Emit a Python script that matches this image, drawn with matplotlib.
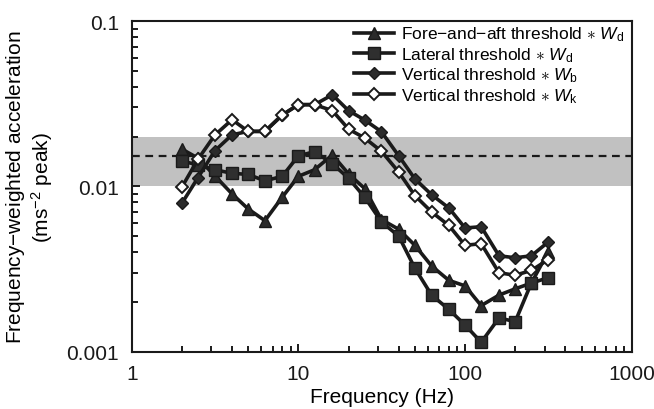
import matplotlib
matplotlib.use("Agg")
import matplotlib.pyplot as plt
from matplotlib.ticker import LogLocator, NullFormatter, FixedLocator, FixedFormatter

plt.rcParams['font.family'] = ['Liberation Sans', 'DejaVu Sans']
plt.rcParams['mathtext.fontset'] = 'custom'
plt.rcParams['mathtext.it'] = 'Liberation Sans:italic'
plt.rcParams['mathtext.rm'] = 'Liberation Sans'

freq = [2, 2.5, 3.15, 4, 5, 6.3, 8, 10, 12.5, 16, 20, 25, 31.5, 40,
        50, 63, 80, 100, 125, 160, 200, 250, 315]

fore_aft_wd = [0.0168, 0.0148, 0.0116, 0.0090, 0.0073, 0.0062, 0.0086, 0.0115,
               0.0126, 0.0155, 0.0119, 0.0097, 0.0063, 0.0055, 0.0044, 0.0033,
               0.0027, 0.0025, 0.0019, 0.0022, 0.0024, 0.0026, 0.0040]
lateral_wd = [0.0142, 0.0135, 0.0126, 0.0120, 0.0118, 0.0108, 0.0115, 0.0153,
              0.0162, 0.0137, 0.0112, 0.0086, 0.0061, 0.0050, 0.0032, 0.0022,
              0.0018, 0.00145, 0.00114, 0.0016, 0.00152, 0.0026, 0.0028]
vertical_wb = [0.0079, 0.0113, 0.0164, 0.0205, 0.0215, 0.0215, 0.0270, 0.0312,
               0.0312, 0.0358, 0.0287, 0.0252, 0.0214, 0.0153, 0.0111, 0.0089,
               0.0074, 0.0056, 0.0057, 0.0038, 0.0037, 0.0038, 0.0046]
vertical_wk = [0.0099, 0.0146, 0.0204, 0.0253, 0.0215, 0.0215, 0.0270, 0.0312,
               0.0312, 0.0287, 0.0222, 0.0196, 0.0163, 0.0122, 0.0088, 0.0070,
               0.0058, 0.0044, 0.0045, 0.0030, 0.0029, 0.0031, 0.0036]

band_low, band_high, band_mid = 0.01, 0.02, 0.0152

labels = [r'Fore$-$and$-$aft threshold $\ast$ $W_{\mathrm{d}}$',
          r'Lateral threshold $\ast$ $W_{\mathrm{d}}$',
          r'Vertical threshold $\ast$ $W_{\mathrm{b}}$',
          r'Vertical threshold $\ast$ $W_{\mathrm{k}}$']

fig = plt.figure(figsize=(6.54, 4.10), dpi=100)
ax = fig.add_axes([0.2014, 0.1398, 0.7645, 0.8065])

ax.axhspan(band_low, band_high, color='#c1c1c1', zorder=0, lw=0)
ax.axhline(band_mid, color='#1a1a1a', ls=(0, (3.5, 2.5)), lw=1.6, zorder=1)

line_kw = dict(color='#1a1a1a', lw=2.6, markeredgecolor='#1a1a1a', zorder=3)
ax.plot(freq, fore_aft_wd, marker='^', ms=9, markerfacecolor='#2b2b2b',
        markeredgewidth=1.0, label=labels[0], **line_kw)
ax.plot(freq, lateral_wd, marker='s', ms=8, markerfacecolor='#2f2f2f',
        markeredgewidth=1.0, label=labels[1], **line_kw)
ax.plot(freq, vertical_wb, marker='D', ms=6, markerfacecolor='#2b2b2b',
        markeredgewidth=1.0, label=labels[2], **line_kw)
ax.plot(freq, vertical_wk, marker='D', ms=6, markerfacecolor='white',
        markeredgewidth=1.4, label=labels[3], **line_kw)

ax.set_xscale('log')
ax.set_yscale('log')
ax.set_xlim(1, 1000)
ax.set_ylim(0.001, 0.1)

ax.xaxis.set_major_locator(FixedLocator([1, 10, 100, 1000]))
ax.xaxis.set_major_formatter(FixedFormatter(['1', '10', '100', '1000']))
ax.yaxis.set_major_locator(FixedLocator([0.001, 0.01, 0.1]))
ax.yaxis.set_major_formatter(FixedFormatter(['0.001', '0.01', '0.1']))
ax.xaxis.set_minor_locator(LogLocator(base=10, subs=range(2, 10)))
ax.yaxis.set_minor_locator(LogLocator(base=10, subs=range(2, 10)))
ax.xaxis.set_minor_formatter(NullFormatter())
ax.yaxis.set_minor_formatter(NullFormatter())

ax.tick_params(which='both', direction='in', top=False, right=False,
               labelsize=15, colors='#1a1a1a', width=1.4)
ax.tick_params(which='major', length=6, pad=9)
ax.tick_params(which='minor', length=4)
for sp in ax.spines.values():
    sp.set_linewidth(1.5)
    sp.set_color('#1a1a1a')

ax.set_xlabel('Frequency (Hz)', fontsize=15, labelpad=3)
ax.set_ylabel('Frequency$-$weighted acceleration\n(ms$^{-2}$ peak)',
              fontsize=15, labelpad=8, linespacing=1.15)

leg = ax.legend(loc='upper right', frameon=False, fontsize=12.5,
                handlelength=2.3, handletextpad=0.45, labelspacing=0.1,
                borderaxespad=0.0, bbox_to_anchor=(1.0, 1.01))

fig.savefig('out.png', dpi=100)
